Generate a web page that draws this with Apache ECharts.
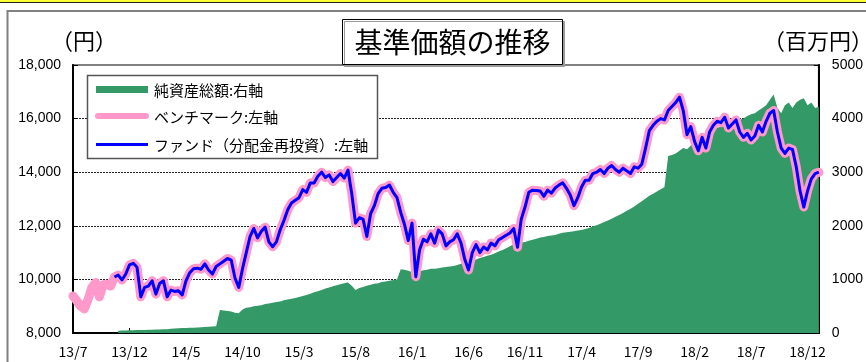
<!DOCTYPE html>
<html>
<head>
<meta charset="utf-8">
<script src="https://cdn.jsdelivr.net/npm/echarts@6/dist/echarts.min.js"></script>
<style>
  html, body { margin: 0; padding: 0; background: #fff; }
  #chart { width: 866px; height: 362px; }
</style>
</head>
<body>
<div id="chart"></div>
<script>
// 10-day sampling from 2013/7/1; x-axis ticks every 5 months
const xTicks = ['13/7', '13/12', '14/5', '14/10', '15/3', '15/8', '16/1', '16/6',
                '16/11', '17/4', '17/9', '18/2', '18/7', '18/12'];
const pointCount = 199;

// Benchmark (円), from 2013/7/1
const benchmark = [
  9380, 9200, 9000, 8900, 9250, 9700, 9880, 9350, 9800, 9820, 9750,
  10090, 10160, 9980, 10200, 10540, 10600, 10450, 9350, 9700, 9750,
  9950, 9450, 9850, 9950, 9350, 9600, 9550, 9580, 9420, 9950,
  10250, 10400, 10420, 10380, 10580, 10350, 10200, 10480, 10580, 10680,
  10780, 10720, 10050, 9700, 10400, 11000, 11600, 11900, 11550, 11800,
  11950, 11400, 11220, 11400, 11850, 12200, 12600, 12850, 12950, 13050,
  13350, 13250, 13600, 13600, 13850, 14000, 13800, 13900, 13650, 13800,
  13950, 13780, 14080, 13200, 12100, 12300, 12250, 11600, 12450, 12750,
  13200, 13400, 13430, 13520, 13250, 13050, 12500, 12050, 11450, 12100,
  10100, 11100, 11500, 11400, 11700, 11350, 11840, 11700, 11250, 11400,
  11480, 11700, 11360, 10750, 10350, 11000, 11300, 11000, 11210, 11100,
  11360, 11250, 11480, 11560, 11650, 11730, 11900, 11200, 12250, 12700,
  13250, 13330, 13320, 13300, 13100, 13330, 13220, 13410, 13520, 13600,
  13400, 13150, 12750, 13050, 13450, 13700, 13700, 13950, 14000, 14100,
  13950, 14150, 14250, 14100, 14000, 14150, 14050, 13950, 14200, 14150,
  14300, 14900, 15550, 15750, 15900, 16000, 15950, 16300, 16450, 16600,
  16800, 16300, 15400, 15700, 15150, 14800, 15300, 14900, 15500, 15750,
  15900, 15850, 16050, 15650, 15800, 15950, 15500, 15300, 15450, 15200,
  15350, 15750, 15500, 15900, 16200, 16300, 15500, 14900, 14700, 14900,
  14850, 14200, 13300, 12700, 13300, 13750, 13950, 14000
];

// Fund NAV with dividends reinvested (円), from launch
const fundStart = 11;
const fund = [
  10090, 10160, 9980, 10200, 10540, 10600, 10450, 9350, 9700, 9750,
  9950, 9450, 9850, 9950, 9350, 9600, 9550, 9580, 9420, 9950,
  10250, 10400, 10420, 10380, 10580, 10350, 10200, 10480, 10580, 10680,
  10780, 10720, 10050, 9700, 10400, 11000, 11600, 11900, 11550, 11800,
  11950, 11400, 11220, 11400, 11850, 12200, 12600, 12850, 12950, 13050,
  13350, 13250, 13600, 13600, 13850, 14000, 13800, 13900, 13650, 13800,
  13950, 13780, 14080, 13200, 12100, 12300, 12250, 11600, 12450, 12750,
  13200, 13400, 13430, 13520, 13250, 13050, 12500, 12050, 11450, 12100,
  10100, 11100, 11500, 11400, 11700, 11350, 11840, 11700, 11250, 11400,
  11480, 11700, 11360, 10750, 10350, 11000, 11300, 11000, 11210, 11100,
  11360, 11250, 11480, 11560, 11650, 11730, 11900, 11200, 12250, 12700,
  13250, 13330, 13320, 13300, 13100, 13330, 13220, 13410, 13520, 13600,
  13400, 13150, 12750, 13050, 13450, 13700, 13700, 13950, 14000, 14100,
  13950, 14150, 14250, 14100, 14000, 14150, 14050, 13950, 14200, 14150,
  14300, 14900, 15550, 15750, 15900, 16000, 15950, 16300, 16450, 16600,
  16800, 16300, 15400, 15700, 15150, 14800, 15300, 14900, 15500, 15750,
  15900, 15850, 16050, 15650, 15800, 15950, 15500, 15300, 15450, 15200,
  15350, 15750, 15500, 15900, 16200, 16300, 15500, 14900, 14700, 14900,
  14850, 14200, 13300, 12700, 13300, 13750, 13950, 14000
];

// Total net assets (百万円), from first record
const netStart = 12;
const netAssets = [
  40, 45, 48, 50, 52, 55, 57, 58, 60, 62,
  63, 65, 68, 70, 80, 85, 88, 92, 95, 98,
  100, 104, 108, 112, 116, 120, 125, 430, 420, 410,
  400, 380, 370, 440, 470, 480, 500, 510, 520, 540,
  550, 565, 580, 590, 610, 625, 640, 655, 670, 690,
  710, 730, 760, 780, 800, 830, 850, 870, 890, 910,
  930, 940, 880, 800, 840, 860, 880, 900, 920, 930,
  950, 960, 975, 990, 1000, 1190, 1180, 1160, 1140, 1110,
  1150, 1170, 1180, 1200, 1200, 1210, 1220, 1230, 1240, 1250,
  1270, 1290, 1300, 1320, 1340, 1370, 1400, 1420, 1440, 1460,
  1490, 1520, 1550, 1580, 1620, 1660, 1680, 1690, 1700, 1720,
  1740, 1760, 1780, 1790, 1810, 1820, 1830, 1850, 1870, 1880,
  1890, 1900, 1910, 1920, 1940, 1960, 1990, 2010, 2040, 2070,
  2100, 2130, 2170, 2200, 2240, 2280, 2320, 2360, 2410, 2460,
  2510, 2560, 2600, 2640, 2680, 2720, 3300, 3320, 3350, 3400,
  3450, 3430, 3500, 3550, 3600, 3650, 3700, 3750, 3800, 3830,
  3850, 3880, 3900, 3920, 3950, 3980, 4000, 4050, 4080, 4100,
  4150, 4200, 4250, 4350, 4450, 4200, 4100, 4250, 4300, 4200,
  4300, 4350, 4380, 4250, 4300, 4200, 4220
];

const legendNames = ['純資産総額:右軸', 'ベンチマーク:左軸', 'ファンド（分配金再投資）:左軸'];
const colors = { net: '#339966', bench: '#ff99cc', fund: '#0000ff' };

// dates of the 10-day sampling grid
const categories = [];
for (let i = 0; i < pointCount; i++) {
  const m = 6 + Math.floor(i / 3);
  const yy = 13 + Math.floor(m / 12);
  categories.push(yy + '/' + (m % 12 + 1) + '/' + (1 + (i % 3) * 10));
}
const pad = (n) => Array(n).fill(null);
const tickEvery = 15;
const isTick = (idx) => idx % tickEvery === 0;

const JP = '"Noto Sans CJK JP", "Noto Sans", sans-serif';
const NUM = '"Liberation Sans", Arial, sans-serif';

const chart = echarts.init(document.getElementById('chart'));
chart.setOption({
  animation: false,
  backgroundColor: '#fff',
  grid: { left: 73, right: 38, top: 65, bottom: 29, show: true, borderColor: '#808080', borderWidth: 2, backgroundColor: 'transparent' },
  xAxis: {
    type: 'category',
    data: categories,
    boundaryGap: false,
    axisLine: { lineStyle: { color: '#000', width: 2 } },
    axisTick: { inside: true, length: 5, interval: (idx) => isTick(idx), lineStyle: { color: '#000', width: 1 } },
    axisLabel: {
      interval: (idx) => isTick(idx),
      formatter: (v, idx) => xTicks[idx / tickEvery],
      color: '#000', fontFamily: JP, fontSize: 14, margin: 12
    },
    splitLine: { show: false }
  },
  yAxis: [
    {
      type: 'value', min: 8000, max: 18000, interval: 2000,
      axisLine: { show: true, lineStyle: { color: '#000', width: 2 } },
      axisTick: { show: true, inside: true, length: 5, lineStyle: { color: '#000' } },
      axisLabel: { color: '#000', fontFamily: NUM, fontSize: 14, margin: 12 },
      splitLine: { show: true, showMinLine: false, showMaxLine: false, lineStyle: { color: '#222', width: 1, type: [2, 1] } }
    },
    {
      type: 'value', min: 0, max: 5000, interval: 1000, position: 'right',
      axisLine: { show: true, lineStyle: { color: '#000', width: 2 } },
      axisTick: { show: true, inside: true, length: 5, lineStyle: { color: '#000' } },
      axisLabel: { color: '#000', fontFamily: NUM, fontSize: 14, margin: 13, formatter: (v) => String(v) },
      splitLine: { show: false }
    }
  ],
  series: [
    {
      name: legendNames[0], type: 'line', yAxisIndex: 1,
      data: pad(netStart).concat(netAssets),
      symbol: 'none', lineStyle: { width: 0 },
      itemStyle: { color: colors.net },
      areaStyle: { color: colors.net, opacity: 1 },
      z: 1
    },
    {
      name: legendNames[1], type: 'line', data: benchmark,
      symbol: 'none',
      lineStyle: { color: colors.bench, width: 9, cap: 'round', join: 'round' },
      itemStyle: { color: colors.bench },
      z: 2
    },
    {
      name: legendNames[2], type: 'line', data: pad(fundStart).concat(fund),
      symbol: 'none',
      lineStyle: { color: colors.fund, width: 3, join: 'round' },
      itemStyle: { color: colors.fund },
      z: 3
    }
  ],
  graphic: [
    { type: 'rect', shape: { x: 0, y: 0, width: 866, height: 2.5 }, style: { fill: '#ffff33' }, z: 10 },
    { type: 'line', shape: { x1: 0, y1: 2.5, x2: 866, y2: 2.5 }, style: { stroke: '#222', lineWidth: 1 }, z: 10 },
    { type: 'polyline', shape: { points: [[7.5, 362], [7.5, 11], [866, 11]] }, style: { stroke: '#808080', lineWidth: 2, fill: null }, z: 10 },
    { type: 'rect', shape: { x: 342.5, y: 19.5, width: 220, height: 45 },
      style: { fill: '#fff', stroke: '#000', lineWidth: 1, shadowOffsetX: 2, shadowOffsetY: 2, shadowBlur: 0, shadowColor: '#9a9a9a' }, z: 10 },
    { type: 'text', x: 452.5, y: 42.5, style: { text: '基準価額の推移', font: '28px ' + JP, fill: '#000', align: 'center', verticalAlign: 'middle' }, z: 11 },
    { type: 'text', x: 84, y: 41, style: { text: '（円）', font: '22px ' + JP, fill: '#000', align: 'center', verticalAlign: 'middle' }, z: 11 },
    { type: 'text', x: 818, y: 41, style: { text: '（百万円）', font: '22px ' + JP, fill: '#000', align: 'center', verticalAlign: 'middle' }, z: 11 },
    { type: 'rect', shape: { x: 87.5, y: 75.5, width: 290, height: 83 }, style: { fill: '#fff', stroke: '#555', lineWidth: 1.5 }, z: 20 },
    { type: 'rect', shape: { x: 96, y: 86, width: 52, height: 7 }, style: { fill: colors.net }, z: 21 },
    { type: 'line', shape: { x1: 98, y1: 116, x2: 146, y2: 116 }, style: { stroke: colors.bench, lineWidth: 6, lineCap: 'round' }, z: 21 },
    { type: 'line', shape: { x1: 96, y1: 144.5, x2: 148, y2: 144.5 }, style: { stroke: colors.fund, lineWidth: 3 }, z: 21 },
    { type: 'text', x: 154, y: 90, style: { text: legendNames[0], font: '15px ' + JP, fill: '#000', verticalAlign: 'middle' }, z: 21 },
    { type: 'text', x: 154, y: 117, style: { text: legendNames[1], font: '15px ' + JP, fill: '#000', verticalAlign: 'middle' }, z: 21 },
    { type: 'text', x: 154, y: 145, style: { text: legendNames[2], font: '15px ' + JP, fill: '#000', verticalAlign: 'middle' }, z: 21 }
  ]
});
</script>
</body>
</html>
